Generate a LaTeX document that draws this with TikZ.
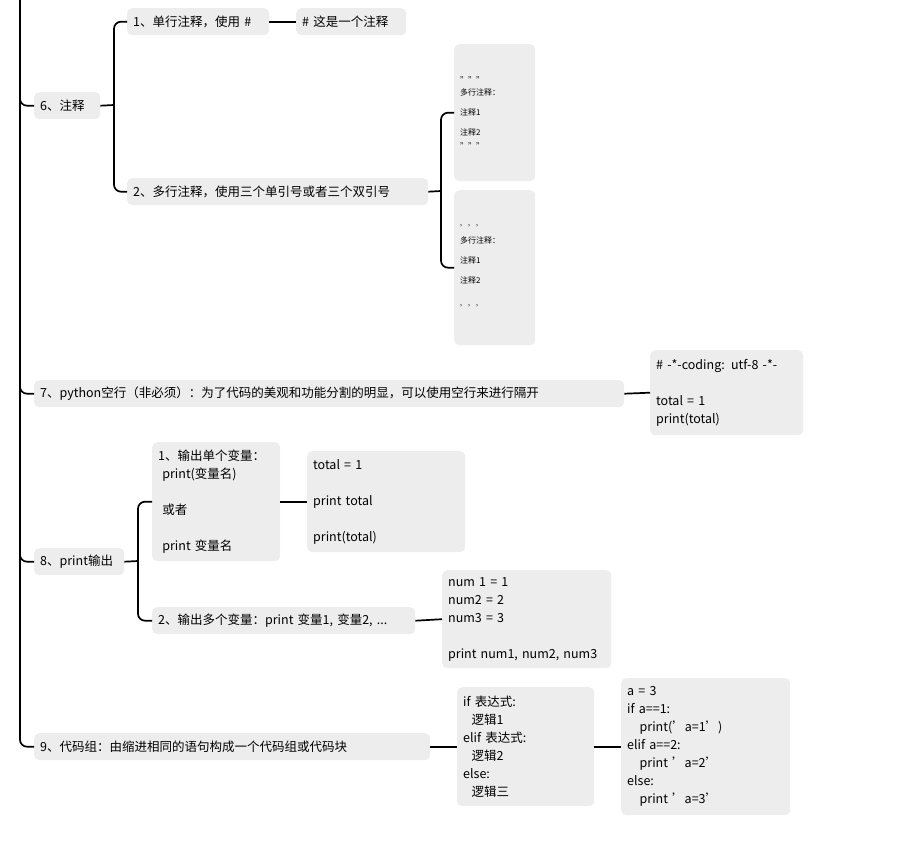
\documentclass[tikz,border=0pt]{standalone}
\usepackage{fontspec}
\setmainfont{Noto Sans CJK SC}
\begin{document}
\begin{tikzpicture}[x=1pt,y=-1pt,
  box/.style={fill=black!7,rounded corners=5pt,anchor=north west,inner sep=0pt,align=left,font=\fontsize{12.5}{18}\selectfont},
  con/.style={line width=1.7pt,rounded corners=7pt}]
\useasboundingbox (0,0) rectangle (912,850);
\newcommand{\bx}[6]{\node[box,minimum width=#4-#2,minimum height=#5-#3,text width=#4-#2-12] (#1) at (#2,#3) {#6};}
\bx{n6}{34}{92}{100}{119}{6、注释}
\bx{n61}{127}{8}{269}{35}{1、单行注释，使用 \#}
\bx{n61a}{296}{8}{406}{35}{\# 这是一个注释}
\bx{n62}{127}{178}{428}{205}{2、多行注释，使用三个单引号或者三个双引号}
\bx{c1}{454}{44}{535}{181}{\fontsize{8}{10}\selectfont"""\\[2pt]多行注释：\\~\\注释1\\~\\注释2\\[-4pt]{\fontsize{8}{10}\selectfont"""}}
\bx{c2}{454}{190}{535}{345}{\fontsize{8}{10}\selectfont{'}{'}{'}\\[2pt]多行注释：\\~\\注释1\\~\\注释2\\~\\{\fontsize{8}{10}\selectfont{'}{'}{'}}}
\bx{n7}{34}{380}{624}{407}{7、python空行（非必须）：为了代码的美观和功能分割的明显，可以使用空行来进行隔开}
\bx{n7a}{650}{350}{803}{435}{\# -*-coding: utf-8 -*-\\~\\total = 1\\print(total)}
\bx{n8}{34}{548}{124}{575}{8、print输出}
\bx{n81}{152}{442}{280}{561}{1、输出单个变量：\\\ print(变量名)\\~\\\ 或者\\~\\\ print 变量名}
\bx{n81a}{307}{451}{465}{552}{total = 1\\~\\print total\\~\\print(total)}
\bx{n82}{152}{607}{415}{634}{2、输出多个变量：print 变量1, 变量2, ...}
\bx{n82a}{442}{570}{611}{668}{num 1 = 1\\num2 = 2\\num3 = 3\\~\\print num1, num2, num3}
\bx{n9}{34}{733}{430}{760}{9、代码组：由缩进相同的语句构成一个代码组或代码块}
\bx{n9a}{457}{687}{594}{806}{if 表达式:\\\ \ 逻辑1\\elif 表达式:\\\ \ 逻辑2\\else:\\\ \ 逻辑三}
\bx{n9b}{621}{678}{790}{815}{a = 3\\if a==1:\\\ \ \ print('a=1')\\elif a==2:\\\ \ \ print 'a=2'\\else:\\\ \ \ print 'a=3'}
\coordinate (top) at (20,0);
\foreach \n in {n6,n7,n8,n9} \draw[con] (top) |- (\n.west);
\coordinate (j6) at (114,105);
\draw[con] (n6.east) -- (j6);
\draw[con] (j6) |- (n61.west); \draw[con] (j6) |- (n62.west);
\draw[con] (n61.east) -- (n61a.west);
\coordinate (j62) at (441,191);
\draw[con] (n62.east) -- (j62);
\draw[con] (j62) |- (c1.west); \draw[con] (j62) |- (c2.west);
\draw[con] (n7.east) -- (n7a.west);
\coordinate (j8) at (138,561);
\draw[con] (n8.east) -- (j8);
\draw[con] (j8) |- (n81.west); \draw[con] (j8) |- (n82.west);
\draw[con] (n81.east) -- (n81a.west);
\draw[con] (n82.east) -- (n82a.west);
\draw[con] (n9.east) -- (n9a.west);
\draw[con] (n9a.east) -- (n9b.west);
\end{tikzpicture}
\end{document}
